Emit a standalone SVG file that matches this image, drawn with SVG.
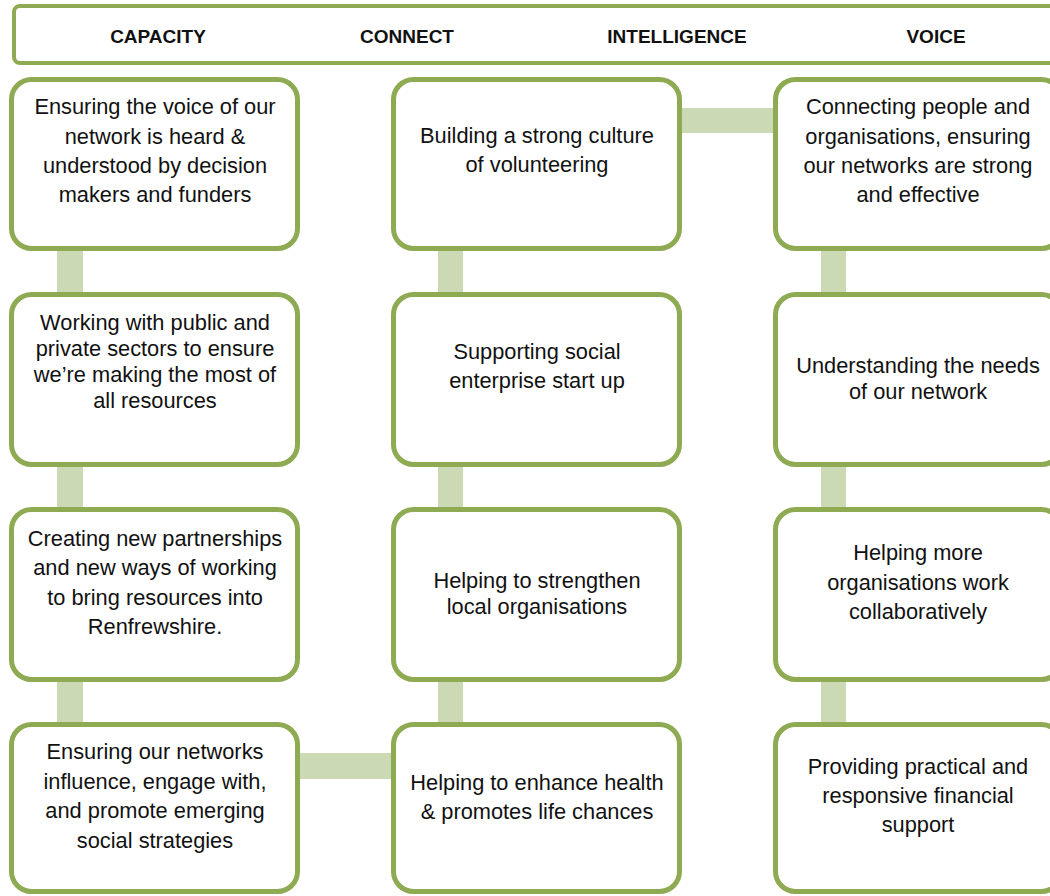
<svg xmlns="http://www.w3.org/2000/svg" width="1050" height="896" viewBox="0 0 1050 896">
<style>
.box{fill:#fff;stroke:#8EAA52;stroke-width:5}
.hdr{fill:#fff;stroke:#8EAA52;stroke-width:4}
.con{fill:#CBDAB5}
.t{font-family:"Liberation Sans",Arial,sans-serif;font-size:21.8px;fill:#111;text-anchor:middle}
.h{font-family:"Liberation Sans",Arial,sans-serif;font-size:19px;font-weight:bold;fill:#111;text-anchor:middle}
</style>
<rect width="1050" height="896" fill="#fff"/>
<g id="header">
<rect class="hdr" x="14" y="6" width="1050" height="57" rx="6"/>
<text class="h" x="158" y="43">CAPACITY</text>
<text class="h" x="407" y="43">CONNECT</text>
<text class="h" x="677" y="43">INTELLIGENCE</text>
<text class="h" x="936" y="43">VOICE</text>
</g>
<g id="connectors">
<rect class="con" x="57" y="248" width="26" height="47"/>
<rect class="con" x="57" y="464" width="26" height="46"/>
<rect class="con" x="57" y="679" width="26" height="46"/>
<rect class="con" x="438" y="248" width="25" height="47"/>
<rect class="con" x="438" y="464" width="25" height="46"/>
<rect class="con" x="438" y="679" width="25" height="46"/>
<rect class="con" x="821" y="248" width="25" height="47"/>
<rect class="con" x="821" y="464" width="25" height="46"/>
<rect class="con" x="821" y="679" width="25" height="46"/>
<rect class="con" x="679" y="108" width="97" height="25"/>
<rect class="con" x="297" y="753" width="97" height="26"/>
</g>
<g id="n-c1r1">
<rect class="box" x="11.5" y="79.5" width="286" height="169" rx="20"/>
<text class="t" x="155" y="114">Ensuring the voice of our</text>
<text class="t" x="155" y="144">network is heard &amp;</text>
<text class="t" x="155" y="173">understood by decision</text>
<text class="t" x="155" y="202">makers and funders</text>
</g>
<g id="n-c1r2">
<rect class="box" x="11.5" y="294.5" width="286" height="170" rx="20"/>
<text class="t" x="155" y="330">Working with public and</text>
<text class="t" x="155" y="356">private sectors to ensure</text>
<text class="t" x="155" y="382">we’re making the most of</text>
<text class="t" x="155" y="408">all resources</text>
</g>
<g id="n-c1r3">
<rect class="box" x="11.5" y="509.5" width="286" height="170" rx="20"/>
<text class="t" x="155" y="546">Creating new partnerships</text>
<text class="t" x="155" y="575">and new ways of working</text>
<text class="t" x="155" y="605">to bring resources into</text>
<text class="t" x="155" y="634">Renfrewshire.</text>
</g>
<g id="n-c1r4">
<rect class="box" x="11.5" y="724.5" width="286" height="167" rx="20"/>
<text class="t" x="155" y="759">Ensuring our networks</text>
<text class="t" x="155" y="789">influence, engage with,</text>
<text class="t" x="155" y="818">and promote emerging</text>
<text class="t" x="155" y="848">social strategies</text>
</g>
<g id="n-c2r1">
<rect class="box" x="393.5" y="79.5" width="286" height="169" rx="20"/>
<text class="t" x="537" y="143">Building a strong culture</text>
<text class="t" x="537" y="172">of volunteering</text>
</g>
<g id="n-c2r2">
<rect class="box" x="393.5" y="294.5" width="286" height="170" rx="20"/>
<text class="t" x="537" y="359">Supporting social</text>
<text class="t" x="537" y="388">enterprise start up</text>
</g>
<g id="n-c2r3">
<rect class="box" x="393.5" y="509.5" width="286" height="170" rx="20"/>
<text class="t" x="537" y="588">Helping to strengthen</text>
<text class="t" x="537" y="614">local organisations</text>
</g>
<g id="n-c2r4">
<rect class="box" x="393.5" y="724.5" width="286" height="167" rx="20"/>
<text class="t" x="537" y="790">Helping to enhance health</text>
<text class="t" x="537" y="819">&amp; promotes life chances</text>
</g>
<g id="n-c3r1">
<rect class="box" x="775.5" y="79.5" width="286" height="169" rx="20"/>
<text class="t" x="918" y="114">Connecting people and</text>
<text class="t" x="918" y="144">organisations, ensuring</text>
<text class="t" x="918" y="173">our networks are strong</text>
<text class="t" x="918" y="202">and effective</text>
</g>
<g id="n-c3r2">
<rect class="box" x="775.5" y="294.5" width="286" height="170" rx="20"/>
<text class="t" x="918" y="373">Understanding the needs</text>
<text class="t" x="918" y="399">of our network</text>
</g>
<g id="n-c3r3">
<rect class="box" x="775.5" y="509.5" width="286" height="170" rx="20"/>
<text class="t" x="918" y="560">Helping more</text>
<text class="t" x="918" y="590">organisations work</text>
<text class="t" x="918" y="619">collaboratively</text>
</g>
<g id="n-c3r4">
<rect class="box" x="775.5" y="724.5" width="286" height="167" rx="20"/>
<text class="t" x="918" y="774">Providing practical and</text>
<text class="t" x="918" y="803">responsive financial</text>
<text class="t" x="918" y="832">support</text>
</g>
</svg>
